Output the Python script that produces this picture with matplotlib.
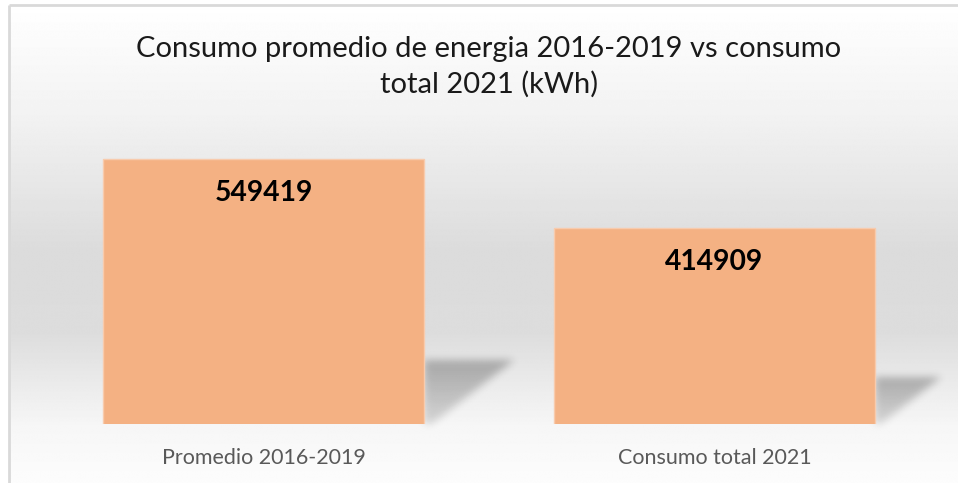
import matplotlib.pyplot as plt
import numpy as np
from matplotlib.path import Path

categories = ['Promedio 2016-2019', 'Consumo total 2021']
values = [549419, 414909]
title = 'Consumo promedio de energia 2016-2019 vs consumo\ntotal 2021 (kWh)'

W, H = 958, 483
plt.rcParams['font.family'] = ['Lato', 'DejaVu Sans']

fig = plt.figure(figsize=(W / 100, H / 100), dpi=100)
fig.patch.set_facecolor('white')

# background axes in pixel coordinates (y downwards)
bg = fig.add_axes([0, 0, 1, 1], zorder=0)
bg.set_xlim(0, W)
bg.set_ylim(H, 0)
bg.axis('off')

ys = np.arange(H)
grad = np.interp(ys, [0, 110, 250, 330, 424, 483], [1.0, 0.95, 0.86, 0.865, 0.965, 0.99])
bg.imshow(np.repeat(grad[:, None], W, axis=1), cmap='gray', vmin=0, vmax=1,
          aspect='auto', extent=[9, W, H, 5], interpolation='bilinear')
bg.plot([9, 9], [H, 4.5], color='#d9d9d9', lw=2, solid_capstyle='butt')
bg.plot([9, W], [4.5, 4.5], color='#d9d9d9', lw=2, solid_capstyle='butt')

# main axes
ax = fig.add_axes([38 / W, 1 - 424 / H, 902 / W, 294 / H], zorder=2)
ax.patch.set_alpha(0)
x = np.arange(len(categories))
width = 0.71
ax.set_xlim(-0.5, 1.5)
ax.set_ylim(32780, 606000)
bars = ax.bar(x, values, width=width, color='#F4B183', edgecolor='#F8CBAD', lw=1)

for xi, v in zip(x, values):
    ax.annotate(str(v), (xi, v), xytext=(0, -24.5), textcoords='offset points',
                ha='center', va='center', fontsize=20.3, fontweight='bold', color='black')

ax.set_xticks(x)
ax.set_xticklabels(categories, fontsize=15.5, color='#595959')
ax.tick_params(axis='x', length=0, pad=17)
ax.set_yticks([])
for s in ax.spines.values():
    s.set_visible(False)

# soft perspective shadows behind the bars, built from the bar geometry
fig.canvas.draw()
gx, gy = np.meshgrid(np.arange(W) + 0.5, np.arange(H) + 0.5)
pts = np.column_stack([gx.ravel(), gy.ravel()])
mask = np.zeros(H * W)
fade = np.zeros(H * W)
for b in bars:
    (x0, y0), (x1, y1) = ax.transData.transform([[b.get_x(), b.get_y()],
                                                 [b.get_x() + b.get_width(), b.get_height()]])
    right = x1
    bottom = H - max(y0, ax.transAxes.transform((0, 0))[1])
    h = abs((H - y1) - bottom)
    top = bottom - 0.24 * h
    poly = Path([(right, bottom), (right, top), (right + 0.34 * h, top),
                 (right + 0.03 * h, bottom), (right, bottom)])
    inside = poly.contains_points(pts)
    mask[inside] = 1
    f = 1 - 0.5 * (pts[:, 1] - top) / (bottom - top)
    fade[inside] = f[inside]
mask = (mask * fade).reshape(H, W)

sig = 4
k = np.exp(-0.5 * (np.arange(-12, 13) / sig) ** 2)
k /= k.sum()
blur = np.zeros_like(mask)
for i, w in zip(range(-12, 13), k):
    blur += w * np.roll(mask, i, axis=0)
blur2 = np.zeros_like(blur)
for i, w in zip(range(-12, 13), k):
    blur2 += w * np.roll(blur, i, axis=1)

rgba = np.zeros((H, W, 4))
rgba[..., 3] = 0.27 * blur2
bg.imshow(rgba, extent=[0, W, H, 0], aspect='auto', zorder=1)

fig.text(489 / W, 1 - 67 / H, title, ha='center', va='center', fontsize=21,
         color='#1a1a1a', linespacing=1.4)

fig.savefig('out.png', dpi=100)
